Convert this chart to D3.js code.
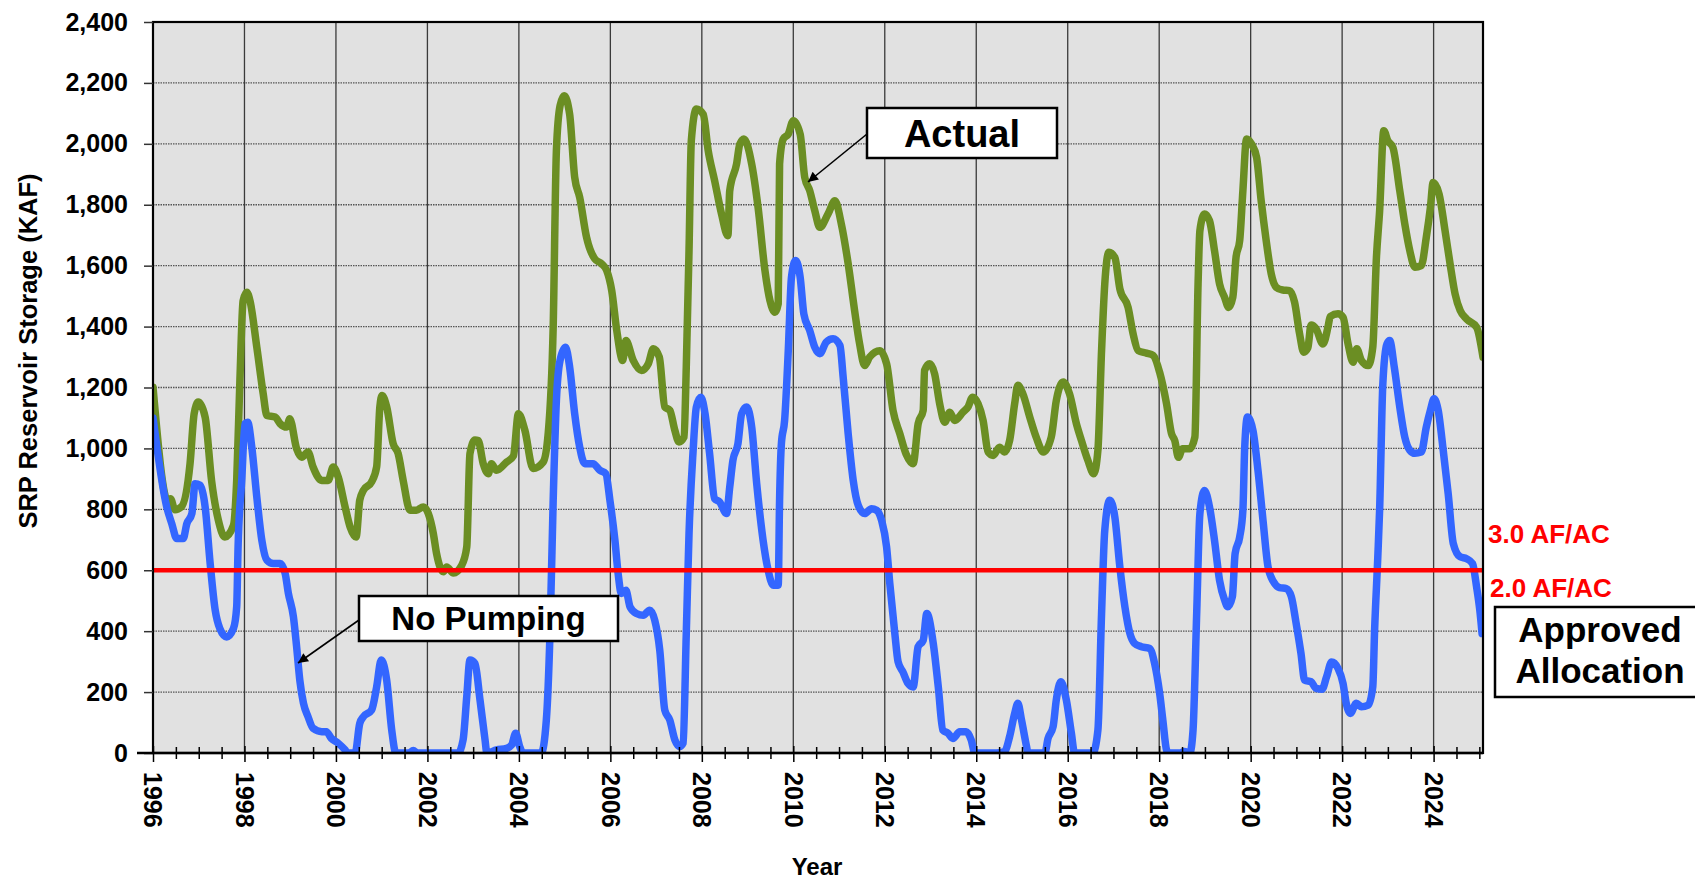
<!DOCTYPE html>
<html>
<head>
<meta charset="utf-8">
<script src="https://cdn.jsdelivr.net/npm/d3@7"></script>
<style>
  html, body { margin: 0; padding: 0; background: #fff; }
  svg text { font-family: "Liberation Sans", Arial, Helvetica, sans-serif; font-weight: bold; }
</style>
</head>
<body>
<div id="chart"></div>
<script>
(function () {

// ---- data (KAF) ----
const actualDates = [
    1996.00, 1996.33, 1996.38, 1996.48, 1996.62, 1996.81, 1996.90, 1996.99, 1997.14, 1997.28,
    1997.43, 1997.57, 1997.76, 1997.83, 1997.90, 1997.97, 1998.05, 1998.12, 1998.27, 1998.41,
    1998.49, 1998.67, 1998.78, 1998.92, 1998.99, 1999.14, 1999.25, 1999.39, 1999.50, 1999.69,
    1999.83, 1999.94, 2000.05, 2000.20, 2000.31, 2000.44, 2000.52, 2000.60, 2000.78, 2000.89,
    2000.96, 2001.01, 2001.11, 2001.25, 2001.36, 2001.47, 2001.62, 2001.76, 2001.91, 2002.02,
    2002.13, 2002.20, 2002.35, 2002.42, 2002.57, 2002.75, 2002.86, 2002.93, 2003.04, 2003.11,
    2003.22, 2003.33, 2003.40, 2003.51, 2003.73, 2003.88, 2003.99, 2004.13, 2004.31, 2004.53,
    2004.64, 2004.75, 2004.82, 2004.90, 2004.99, 2005.11, 2005.22, 2005.33, 2005.48, 2005.66,
    2005.81, 2005.92, 2006.03, 2006.14, 2006.27, 2006.34, 2006.50, 2006.68, 2006.83, 2006.94,
    2007.07, 2007.19, 2007.30, 2007.41, 2007.50, 2007.61, 2007.66, 2007.72, 2007.77, 2007.88,
    2008.03, 2008.14, 2008.28, 2008.43, 2008.57, 2008.61, 2008.76, 2008.83, 2008.92, 2009.09,
    2009.23, 2009.38, 2009.49, 2009.60, 2009.67, 2009.70, 2009.78, 2009.89, 2010.00, 2010.15,
    2010.25, 2010.36, 2010.47, 2010.58, 2010.76, 2010.91, 2011.05, 2011.20, 2011.34, 2011.45,
    2011.56, 2011.67, 2011.89, 2012.04, 2012.18, 2012.33, 2012.47, 2012.62, 2012.73, 2012.84,
    2012.87, 2012.98, 2013.09, 2013.20, 2013.31, 2013.42, 2013.53, 2013.71, 2013.82, 2013.92,
    2014.04, 2014.15, 2014.26, 2014.37, 2014.51, 2014.62, 2014.73, 2014.84, 2014.91, 2015.02,
    2015.17, 2015.31, 2015.47, 2015.64, 2015.75, 2015.90, 2016.04, 2016.19, 2016.30, 2016.44,
    2016.57, 2016.66, 2016.74, 2016.81, 2016.90, 2017.03, 2017.14, 2017.32, 2017.43, 2017.54,
    2017.72, 2017.87, 2018.01, 2018.16, 2018.27, 2018.34, 2018.42, 2018.51, 2018.67, 2018.78,
    2018.85, 2018.89, 2018.99, 2019.10, 2019.21, 2019.32, 2019.43, 2019.52, 2019.61, 2019.68,
    2019.76, 2019.83, 2019.91, 2020.02, 2020.13, 2020.23, 2020.34, 2020.45, 2020.56, 2020.70,
    2020.85, 2020.96, 2021.07, 2021.16, 2021.25, 2021.32, 2021.43, 2021.58, 2021.69, 2021.74,
    2021.91, 2022.02, 2022.13, 2022.24, 2022.32, 2022.42, 2022.57, 2022.67, 2022.75, 2022.82,
    2022.91, 2023.00, 2023.11, 2023.26, 2023.37, 2023.48, 2023.59, 2023.73, 2023.84, 2023.93,
    2023.99, 2024.12, 2024.25, 2024.36, 2024.47, 2024.58, 2024.72, 2024.94, 2025.08
];
const actualKaf = [
    1201, 824, 835, 799, 808, 950, 1114, 1152, 1103, 895,
    764, 709, 748, 895, 1223, 1485, 1513, 1485, 1332, 1179,
    1108, 1103, 1081, 1070, 1097, 999, 971, 988, 939, 895,
    895, 939, 906, 808, 742, 709, 830, 862, 890, 939,
    1136, 1174, 1136, 1016, 983, 895, 797, 797, 808, 786,
    720, 655, 595, 611, 591, 616, 676, 983, 1028, 1026,
    950, 917, 950, 928, 955, 975, 1114, 1060, 934, 955,
    1048, 1400, 1977, 2125, 2158, 2097, 1890, 1824, 1693, 1622,
    1606, 1584, 1518, 1387, 1289, 1354, 1289, 1256, 1278, 1327,
    1300, 1136, 1125, 1059, 1021, 1037, 1267, 1650, 2010, 2114,
    2097, 1977, 1879, 1770, 1698, 1846, 1934, 1999, 2016, 1934,
    1791, 1584, 1485, 1447, 1475, 1934, 2016, 2032, 2076, 2032,
    1890, 1846, 1780, 1726, 1770, 1813, 1737, 1606, 1453, 1343,
    1272, 1300, 1321, 1278, 1125, 1048, 980, 950, 1081, 1125,
    1256, 1278, 1245, 1147, 1086, 1119, 1092, 1119, 1136, 1168,
    1147, 1092, 988, 977, 1004, 988, 1026, 1147, 1207, 1179,
    1103, 1037, 988, 1037, 1157, 1218, 1179, 1081, 1026, 961,
    917, 994, 1321, 1540, 1644, 1627, 1524, 1463, 1376, 1321,
    1313, 1305, 1250, 1147, 1048, 1026, 971, 999, 999, 1037,
    1540, 1715, 1770, 1748, 1649, 1540, 1496, 1463, 1496, 1627,
    1682, 1846, 2016, 1999, 1955, 1813, 1682, 1573, 1529, 1520,
    1518, 1480, 1376, 1316, 1330, 1405, 1393, 1343, 1398, 1433,
    1442, 1431, 1343, 1283, 1327, 1289, 1272, 1332, 1627, 1780,
    2043, 2010, 1988, 1846, 1737, 1649, 1595, 1600, 1693, 1791,
    1873, 1835, 1715, 1606, 1507, 1453, 1425, 1398, 1300
];

const noPumpDates = [
    1996.00, 1996.30, 1996.41, 1996.52, 1996.66, 1996.74, 1996.85, 1996.92, 1997.03, 1997.14,
    1997.25, 1997.36, 1997.46, 1997.61, 1997.76, 1997.83, 1997.86, 1997.94, 1998.01, 1998.07,
    1998.16, 1998.27, 1998.38, 1998.49, 1998.63, 1998.78, 1998.89, 1998.96, 1999.07, 1999.14,
    1999.21, 1999.29, 1999.39, 1999.50, 1999.69, 1999.79, 1999.90, 2000.05, 2000.20, 2000.25,
    2000.42, 2000.52, 2000.60, 2000.78, 2000.89, 2000.99, 2001.11, 2001.22, 2001.31, 2001.60,
    2001.69, 2001.78, 2002.67, 2002.78, 2002.86, 2002.93, 2003.04, 2003.15, 2003.26, 2003.30,
    2003.51, 2003.73, 2003.84, 2003.93, 2004.02, 2004.09, 2004.49, 2004.60, 2004.68, 2004.75,
    2004.82, 2004.90, 2005.02, 2005.11, 2005.22, 2005.33, 2005.44, 2005.62, 2005.77, 2005.90,
    2005.99, 2006.10, 2006.17, 2006.24, 2006.34, 2006.43, 2006.57, 2006.72, 2006.86, 2006.97,
    2007.08, 2007.19, 2007.30, 2007.41, 2007.52, 2007.59, 2007.66, 2007.72, 2007.81, 2007.88,
    2007.98, 2008.07, 2008.17, 2008.28, 2008.39, 2008.54, 2008.61, 2008.68, 2008.79, 2008.87,
    2008.98, 2009.09, 2009.20, 2009.34, 2009.45, 2009.56, 2009.67, 2009.70, 2009.74, 2009.81,
    2009.89, 2009.96, 2010.05, 2010.15, 2010.23, 2010.36, 2010.47, 2010.58, 2010.72, 2010.87,
    2011.02, 2011.09, 2011.20, 2011.31, 2011.42, 2011.56, 2011.71, 2011.82, 2011.93, 2012.04,
    2012.11, 2012.22, 2012.29, 2012.40, 2012.51, 2012.62, 2012.73, 2012.84, 2012.92, 2013.06,
    2013.17, 2013.27, 2013.38, 2013.49, 2013.64, 2013.78, 2013.89, 2013.97, 2014.44, 2014.62,
    2014.73, 2014.84, 2014.91, 2014.99, 2015.10, 2015.13, 2015.50, 2015.57, 2015.68, 2015.75,
    2015.85, 2015.97, 2016.08, 2016.15, 2016.55, 2016.66, 2016.74, 2016.81, 2016.92, 2017.03,
    2017.14, 2017.25, 2017.36, 2017.46, 2017.61, 2017.79, 2017.90, 2018.01, 2018.08, 2018.16,
    2018.20, 2018.45, 2018.55, 2018.67, 2018.74, 2018.82, 2018.89, 2018.99, 2019.10, 2019.21,
    2019.32, 2019.43, 2019.50, 2019.60, 2019.66, 2019.76, 2019.83, 2019.87, 2019.93, 2020.05,
    2020.16, 2020.27, 2020.38, 2020.50, 2020.63, 2020.78, 2020.89, 2020.99, 2021.10, 2021.18,
    2021.32, 2021.43, 2021.56, 2021.66, 2021.77, 2021.91, 2022.02, 2022.09, 2022.18, 2022.31,
    2022.42, 2022.57, 2022.67, 2022.71, 2022.78, 2022.82, 2022.89, 2022.98, 2023.04, 2023.14,
    2023.26, 2023.37, 2023.48, 2023.59, 2023.73, 2023.84, 2023.93, 2024.01, 2024.10, 2024.21,
    2024.32, 2024.43, 2024.58, 2024.72, 2024.85, 2024.94, 2025.01, 2025.06
];
const noPumpKaf = [
    1100, 808, 753, 704, 704, 753, 786, 884, 879, 808,
    622, 469, 409, 381, 409, 480, 676, 895, 1081, 1086,
    1004, 840, 698, 633, 622, 622, 589, 524, 447, 349,
    239, 163, 119, 81, 70, 70, 48, 32, 10, 0,
    0, 97, 119, 141, 217, 305, 239, 75, 0, 0,
    8, 0, 0, 43, 185, 305, 294, 174, 43, 0,
    10, 15, 26, 65, 20, 0, 0, 108, 392, 830,
    1157, 1289, 1332, 1267, 1114, 1004, 950, 950, 928, 917,
    830, 698, 589, 524, 534, 480, 458, 452, 469, 436,
    338, 141, 108, 43, 21, 32, 392, 720, 994, 1136,
    1168, 1114, 983, 835, 824, 786, 873, 961, 1016, 1114,
    1136, 1070, 884, 698, 600, 551, 551, 830, 1016, 1092,
    1321, 1562, 1617, 1562, 1442, 1387, 1332, 1311, 1349, 1360,
    1338, 1234, 1048, 895, 813, 786, 802, 797, 764, 676,
    556, 392, 300, 265, 228, 217, 349, 370, 458, 360,
    217, 75, 65, 48, 70, 70, 43, 0, 0, 5,
    54, 130, 163, 108, 21, 0, 0, 48, 86, 174,
    234, 174, 65, 0, 0, 75, 458, 731, 830, 775,
    611, 480, 392, 360, 349, 343, 294, 196, 108, 10,
    0, 0, 5, 0, 75, 458, 786, 862, 808, 698,
    567, 502, 480, 513, 655, 709, 797, 1004, 1103, 1059,
    928, 764, 611, 562, 543, 540, 513, 430, 327, 239,
    234, 212, 209, 250, 299, 278, 228, 163, 130, 163,
    152, 157, 217, 403, 644, 800, 1212, 1343, 1354, 1267,
    1136, 1037, 994, 984, 988, 1070, 1125, 1163, 1125, 994,
    850, 688, 644, 638, 622, 545, 469, 392
];

const allocationKaf = 600;
const yTicks = [0, 200, 400, 600, 800, 1000, 1200, 1400, 1600, 1800, 2000, 2200, 2400];
const yearLabels = [1996, 1998, 2000, 2002, 2004, 2006, 2008, 2010, 2012, 2014, 2016, 2018, 2020, 2022, 2024];

// ---- layout ----
const [WIDTH, HEIGHT] = [1695, 881];
const plot = { left: 153, right: 1483, top: 22, bottom: 753 };

const svg = d3.select('#chart').append('svg')
    .attr('width', WIDTH)
    .attr('height', HEIGHT)
    .attr('viewBox', `0 0 ${WIDTH} ${HEIGHT}`);

const x = d3.scaleLinear().domain([1996, 2025.08]).range([plot.left, plot.right]);
const y = d3.scaleLinear().domain([0, 2400]).range([plot.bottom, plot.top]);

const defs = svg.append('defs');
defs.append('clipPath').attr('id', 'plot-clip')
    .append('rect')
    .attr('x', plot.left).attr('y', plot.top)
    .attr('width', plot.right - plot.left).attr('height', plot.bottom - plot.top);
defs.append('marker')
    .attr('id', 'arrow')
    .attr('viewBox', '0 0 10 10')
    .attr('refX', 10).attr('refY', 5)
    .attr('markerWidth', 13).attr('markerHeight', 10)
    .attr('markerUnits', 'userSpaceOnUse')
    .attr('orient', 'auto')
    .append('path')
    .attr('d', 'M0,0 L10,5 L0,10 z')
    .attr('fill', 'black');

// plot background
svg.append('rect')
    .attr('x', plot.left).attr('y', plot.top)
    .attr('width', plot.right - plot.left).attr('height', plot.bottom - plot.top)
    .attr('fill', '#e1e1e1');

// horizontal dotted gridlines
svg.append('g')
    .selectAll('line')
    .data(yTicks.slice(1))
    .join('line')
    .attr('x1', plot.left).attr('x2', plot.right)
    .attr('y1', (d) => y(d)).attr('y2', (d) => y(d))
    .attr('stroke', '#555')
    .attr('stroke-width', 1.3)
    .attr('stroke-dasharray', '1.5,1');

// vertical gridlines at labelled years
svg.append('g')
    .selectAll('line')
    .data(yearLabels.slice(1))
    .join('line')
    .attr('x1', (d) => x(d)).attr('x2', (d) => x(d))
    .attr('y1', plot.top).attr('y2', plot.bottom)
    .attr('stroke', '#3a3a3a')
    .attr('stroke-width', 1.3);

// series
const line = d3.line()
    .x((d) => x(d[0]))
    .y((d) => y(d[1]))
    .curve(d3.curveMonotoneX);

const lines = svg.append('g').attr('clip-path', 'url(#plot-clip)');

lines.append('path')
    .datum(d3.zip(actualDates, actualKaf))
    .attr('d', line)
    .attr('fill', 'none')
    .attr('stroke', '#6b8e23')
    .attr('stroke-width', 7.5)
    .attr('stroke-linejoin', 'round')
    .attr('stroke-linecap', 'round');

lines.append('path')
    .datum(d3.zip(noPumpDates, noPumpKaf))
    .attr('d', line)
    .attr('fill', 'none')
    .attr('stroke', '#3366ff')
    .attr('stroke-width', 7.5)
    .attr('stroke-linejoin', 'round')
    .attr('stroke-linecap', 'round');

// approved allocation line
svg.append('line')
    .attr('x1', plot.left).attr('x2', plot.right)
    .attr('y1', y(allocationKaf)).attr('y2', y(allocationKaf))
    .attr('stroke', '#ff0000')
    .attr('stroke-width', 4.5);

// frame
svg.append('rect')
    .attr('x', plot.left).attr('y', plot.top)
    .attr('width', plot.right - plot.left).attr('height', plot.bottom - plot.top)
    .attr('fill', 'none')
    .attr('stroke', 'black')
    .attr('stroke-width', 2.2);

// y axis
const yAxis = svg.append('g')
    .attr('transform', `translate(${plot.left},0)`)
    .call(d3.axisLeft(y)
        .tickValues(yTicks)
        .tickSize(9)
        .tickPadding(16)
        .tickFormat(d3.format(',')));
yAxis.select('.domain').remove();
yAxis.selectAll('line').attr('stroke', '#333').attr('stroke-width', 1.5);
yAxis.selectAll('text')
    .attr('font-size', 25)
    .attr('font-weight', 'bold')
    .attr('fill', 'black');

// x axis: half-year ticks, crossing the axis line
const halfYears = d3.range(1996, 2025.01, 0.5);
const xAxis = svg.append('g')
    .attr('transform', `translate(0,${plot.bottom})`)
    .call(d3.axisBottom(x)
        .tickValues(halfYears)
        .tickSize(7)
        .tickFormat(''));
xAxis.select('.domain').remove();
xAxis.selectAll('line')
    .attr('y1', (d) => (d % 2 === 0 ? -7 : -6))
    .attr('y2', (d) => (d % 2 === 0 ? 9 : 6))
    .attr('stroke', 'black')
    .attr('stroke-width', 1.5);

svg.append('line')
    .attr('x1', plot.left - 16).attr('x2', plot.right)
    .attr('y1', plot.bottom).attr('y2', plot.bottom)
    .attr('stroke', 'black').attr('stroke-width', 2.5);

svg.append('g')
    .selectAll('text')
    .data(yearLabels)
    .join('text')
    .attr('transform', (d) => `translate(${x(d)},${plot.bottom + 19}) rotate(90)`)
    .attr('dy', '0.35em')
    .attr('font-size', 25)
    .text((d) => d);

// axis titles
svg.append('text')
    .attr('x', 817).attr('y', 875)
    .attr('text-anchor', 'middle')
    .attr('font-size', 24)
    .text('Year');

svg.append('text')
    .attr('transform', 'translate(37,351) rotate(-90)')
    .attr('text-anchor', 'middle')
    .attr('font-size', 25.5)
    .text('SRP Reservoir Storage (KAF)');

// callouts
function callout(box, label, fontSize, arrowFrom, arrowTo) {
    const g = svg.append('g');
    g.append('rect')
        .attr('x', box.x).attr('y', box.y)
        .attr('width', box.w).attr('height', box.h)
        .attr('fill', 'white')
        .attr('stroke', 'black')
        .attr('stroke-width', 2.5);
    g.append('text')
        .attr('x', box.x + box.w / 2)
        .attr('y', box.y + box.h / 2)
        .attr('dy', '0.36em')
        .attr('text-anchor', 'middle')
        .attr('font-size', fontSize)
        .text(label);
    if (arrowFrom) {
        g.append('line')
            .attr('x1', arrowFrom[0]).attr('y1', arrowFrom[1])
            .attr('x2', arrowTo[0]).attr('y2', arrowTo[1])
            .attr('stroke', 'black')
            .attr('stroke-width', 1.6)
            .attr('marker-end', 'url(#arrow)');
    }
}

callout({ x: 867, y: 108, w: 190, h: 50 }, 'Actual', 38, [867, 134], [808, 182]);
callout({ x: 359, y: 596, w: 259, h: 45 }, 'No Pumping', 33, [359, 620], [298, 663]);

// approved allocation labels
svg.append('text')
    .attr('x', 1488).attr('y', 543)
    .attr('font-size', 26)
    .attr('fill', '#ff0000')
    .text('3.0 AF/AC');
svg.append('text')
    .attr('x', 1490).attr('y', 597)
    .attr('font-size', 26)
    .attr('fill', '#ff0000')
    .text('2.0 AF/AC');

const approved = svg.append('g');
approved.append('rect')
    .attr('x', 1495).attr('y', 607)
    .attr('width', 205).attr('height', 90)
    .attr('fill', 'white')
    .attr('stroke', 'black')
    .attr('stroke-width', 2.5);
approved.append('text')
    .attr('x', 1600).attr('y', 642)
    .attr('text-anchor', 'middle')
    .attr('font-size', 35)
    .text('Approved');
approved.append('text')
    .attr('x', 1600).attr('y', 683)
    .attr('text-anchor', 'middle')
    .attr('font-size', 35)
    .text('Allocation');

})();
</script>
</body>
</html>
